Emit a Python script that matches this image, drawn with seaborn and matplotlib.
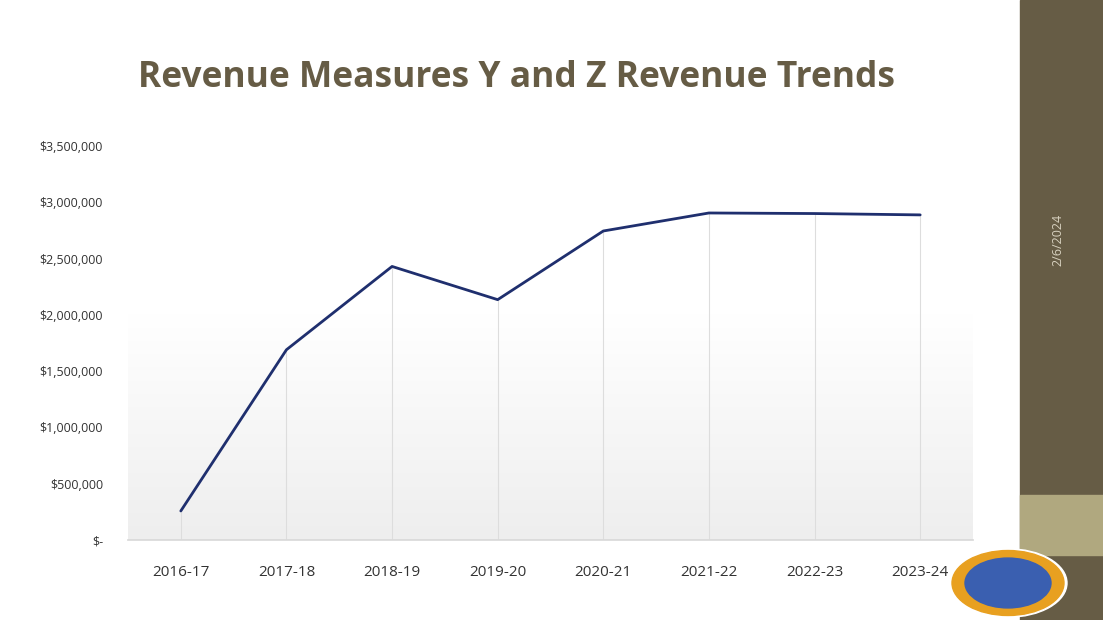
import matplotlib
matplotlib.use("Agg")
import matplotlib.pyplot as plt
import seaborn as sns
import numpy as np
import pandas as pd
from matplotlib.patches import Rectangle, Ellipse

years = ["2016-17","2017-18","2018-19","2019-20","2020-21","2021-22","2022-23","2023-24"]
revenue = [258000, 1690000, 2430000, 2135000, 2745000, 2905000, 2900000, 2888000]
yticks = [0, 500000, 1000000, 1500000, 2000000, 2500000, 3000000, 3500000]

sns.set_theme(style="white")
plt.rcParams['font.family'] = ['Open Sans', 'DejaVu Sans']

fig = plt.figure(figsize=(11.03, 6.20), dpi=100)
W, H = 1103, 620
fig.patches.append(Rectangle((1020/W, 0), 83/W, 1, transform=fig.transFigure, color="#665C45", zorder=0))
fig.patches.append(Rectangle((1020/W, (620-555)/H), 83/W, 60/H, transform=fig.transFigure, color="#B0A87F", zorder=1))
fig.text(1058/W, 1-240/H, "2/6/2024", rotation=90, color="#D8D2C0", fontsize=9, ha="center", va="center")
fig.text(516/W, 1-78/H, "Revenue Measures Y and Z Revenue Trends", fontsize=25.5, fontweight="bold",
         color="#665C45", ha="center", va="center")

ax = fig.add_axes([128/W, 1-540/H, (973-128)/W, (540-146)/H])
df = pd.DataFrame({"year": years, "revenue": revenue})
x = np.arange(len(years))
grad = np.linspace(0, 1, 256).reshape(-1, 1)
ax.imshow(grad, extent=[-0.5, 7.5, 0, 2000000], aspect="auto",
          cmap=matplotlib.colors.LinearSegmentedColormap.from_list("g", ["#EEEEEE", "#FFFFFF"]),
          origin="lower", zorder=0)
ax.vlines(x, 0, revenue, color="#DDDDDD", lw=0.8, zorder=1)
sns.lineplot(data=df, x=x, y="revenue", ax=ax, color="#1F2F6E", lw=2, zorder=3)
ax.set_xlim(-0.5, 7.5)
ax.set_ylim(0, 3500000)
ax.set_xticks(x)
ax.set_xticklabels(years, fontsize=11, color="#333333")
ax.set_yticks(yticks)
ax.set_yticklabels(["$-" if v == 0 else f"${v:,.0f}" for v in yticks], fontsize=9, color="#333333")
ax.tick_params(axis="y", pad=12)
ax.tick_params(axis="x", pad=12)
ax.set_xlabel(""); ax.set_ylabel("")
for s in ["top", "right", "left"]:
    ax.spines[s].set_visible(False)
ax.spines["bottom"].set_color("#D9D9D9")

# logo placeholder
for w, c in [(118, "#FFFFFF"), (112, "#E8A020"), (86, "#3A5FB0")]:
    fig.patches.append(Ellipse((1008/W, 1-583/H), w/W, (w*0.58)/H, transform=fig.transFigure,
                               color=c, zorder=5))

fig.savefig("out.png", dpi=100)
